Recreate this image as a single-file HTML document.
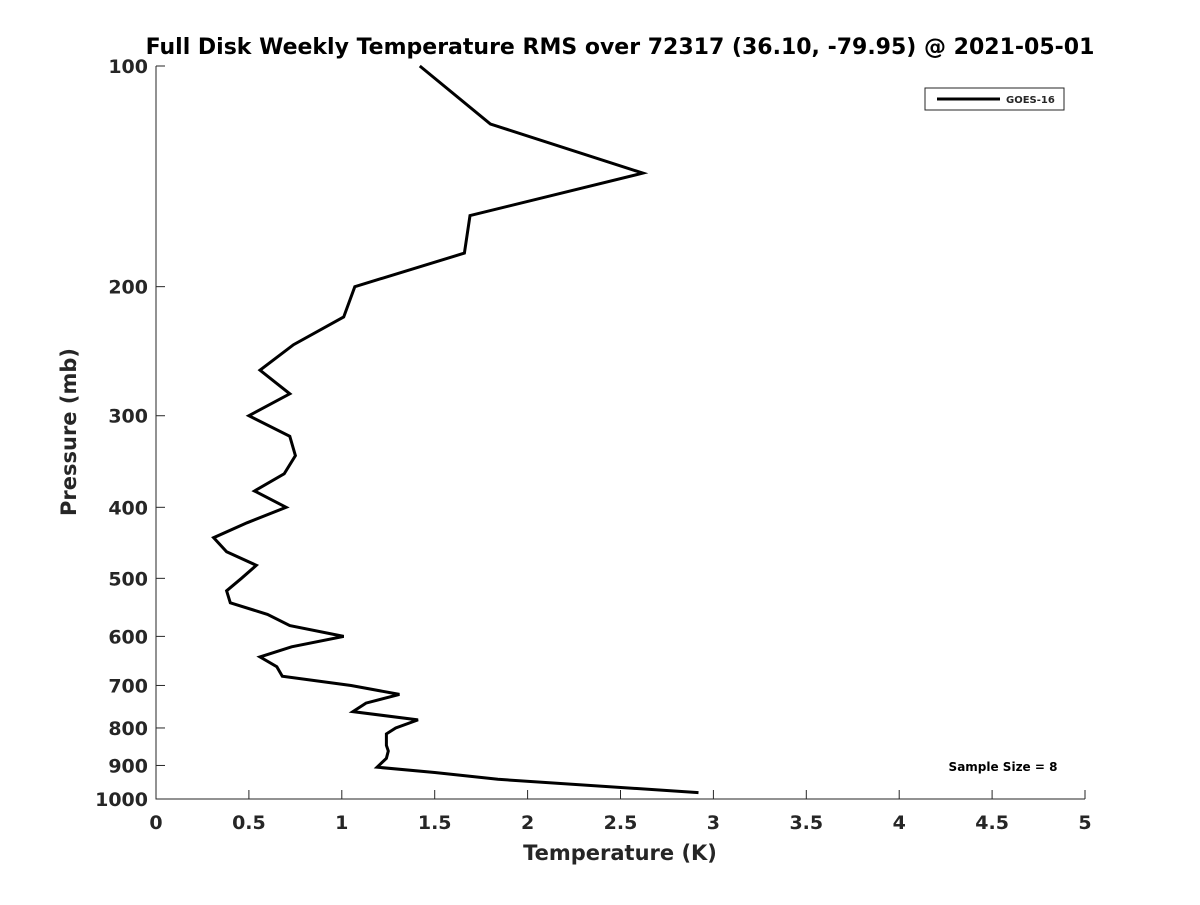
<!DOCTYPE html>
<html><head><meta charset="utf-8"><style>
body{margin:0;background:#fff;}
svg text{font-family:"DejaVu Sans","Liberation Sans",sans-serif;font-weight:bold;fill:#262626;}
</style></head><body>
<svg width="1200" height="900" id="c">
<text x="620" y="54" text-anchor="middle" font-size="22" style="fill:#000">Full Disk Weekly Temperature RMS over 72317 (36.10, -79.95) @ 2021-05-01</text>
<g id="axes"></g>
<text x="620" y="860" text-anchor="middle" font-size="21">Temperature (K)</text>
<text transform="translate(76,432) rotate(-90)" text-anchor="middle" font-size="21">Pressure (mb)</text>
<g>
<rect x="925" y="88" width="139" height="22" fill="#fff" stroke="#262626" stroke-width="1"/>
<line x1="937" y1="99" x2="1000" y2="99" stroke="#000" stroke-width="3"/>
<text x="1006" y="103" font-size="10">GOES-16</text>
</g>
<text x="1003" y="771" text-anchor="middle" font-size="12" style="fill:#000">Sample Size = 8</text>
</svg>
<script>
const temps=[1.42,1.80,2.62,1.69,1.66,1.07,1.01,0.74,0.56,0.72,0.50,0.72,0.75,0.69,0.53,0.70,0.49,0.31,0.38,0.54,0.46,0.38,0.40,0.60,0.72,1.01,0.73,0.56,0.65,0.68,1.05,1.31,1.13,1.06,1.41,1.29,1.24,1.24,1.25,1.24,1.19,1.50,1.84,2.92];
const pressures=[100,120,140,160,180,200,220,240,260,280,300,320,340,360,380,400,420,440,460,480,500,520,540,560,580,600,620,640,660,680,700,720,740,760,780,800,815,845,860,880,905,920,940,980];
const xTicks=[0,0.5,1,1.5,2,2.5,3,3.5,4,4.5,5];
const yTicks=[100,200,300,400,500,600,700,800,900,1000];
const L=156,R=1085,T=66,B=799;
const xs=v=>L+(v/5)*(R-L);
const ys=p=>T+Math.log10(p/100)*(B-T);
const ns="http://www.w3.org/2000/svg";
const svg=document.getElementById('c'),g=document.getElementById('axes');
function mk(t,a,par){const e=document.createElementNS(ns,t);for(const k in a)e.setAttribute(k,a[k]);(par||g).appendChild(e);return e;}
const ax=mk('path',{d:`M${L},${T}V${B}H${R}`,fill:'none',stroke:'#262626','stroke-width':1});


xTicks.forEach(v=>{
 const x=xs(v);
 const tl=mk('line',{x1:x,x2:x,y1:B,y2:B-9,stroke:'#262626'});
 
 
 const t=mk('text',{x:x,y:B+30,'text-anchor':'middle','font-size':19});t.textContent=v;
 
 
});
yTicks.forEach(p=>{
 const y=ys(p);
 const tl=mk('line',{x1:L,x2:L+9,y1:y,y2:y,stroke:'#262626'});
 
 
 const t=mk('text',{x:L-8,y:y+7,'text-anchor':'end','font-size':19});t.textContent=p;
 
 
});
const pts=temps.map((v,i)=>xs(v).toFixed(1)+','+ys(pressures[i]).toFixed(1)).join(' ');
const line=mk('polyline',{points:pts,fill:'none',stroke:'#000','stroke-width':3,'stroke-linejoin':'miter'});


</script>
</body></html>
